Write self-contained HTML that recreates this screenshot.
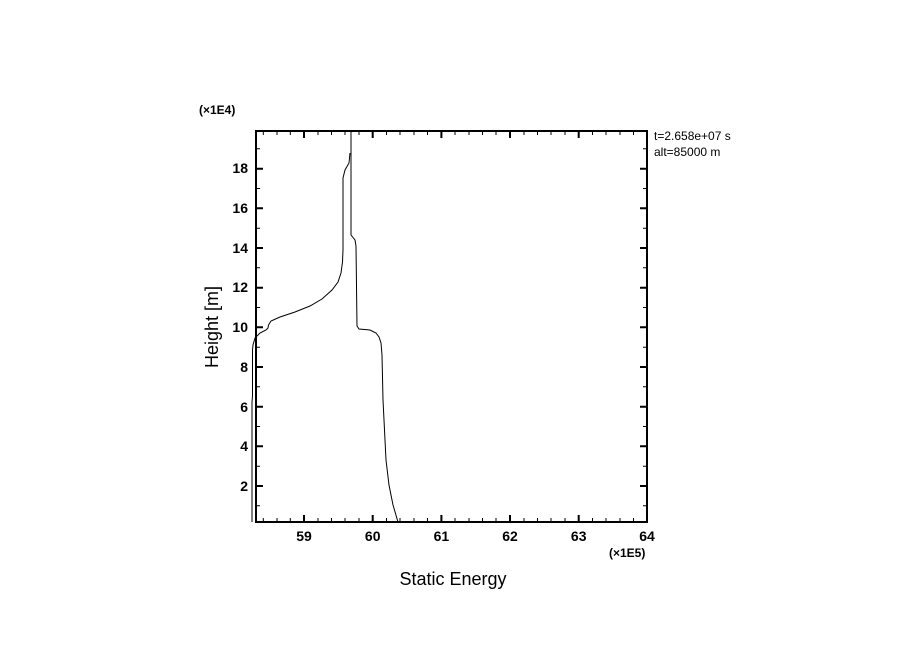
<!DOCTYPE html>
<html><head><style>body{margin:0;background:#fff}svg{display:block}</style></head><body>
<svg width="904" height="654" xmlns="http://www.w3.org/2000/svg" font-family="Liberation Sans, DejaVu Sans, sans-serif">
<rect width="904" height="654" fill="#fff"/>
<g stroke="#000" stroke-width="2" fill="none">
<rect x="256" y="131" width="391" height="391"/>
</g>
<g stroke="#000" stroke-width="2">
<!-- x major ticks -->
<path d="M304,522v-7M372.7,522v-7M441.4,522v-7M510,522v-7M578.7,522v-7M304,131v7M372.7,131v7M441.4,131v7M510,131v7M578.7,131v7"/>
<!-- y major ticks -->
<path d="M256,486h7M256,446.3h7M256,406.7h7M256,367h7M256,327.3h7M256,287.7h7M256,248h7M256,208.3h7M256,168.7h7M647,486h-7M647,446.3h-7M647,406.7h-7M647,367h-7M647,327.3h-7M647,287.7h-7M647,248h-7M647,208.3h-7M647,168.7h-7"/>
</g>
<g stroke="#000" stroke-width="1">
<path d="M263.3,522v-4M277,522v-4M290.3,522v-4M318,522v-4M331.5,522v-4M345,522v-4M359,522v-4M386.5,522v-4M400,522v-4M414,522v-4M427.5,522v-4M455,522v-4M469,522v-4M482.5,522v-4M496,522v-4M524,522v-4M537.5,522v-4M551,522v-4M565,522v-4M592.5,522v-4M606,522v-4M620,522v-4M633.5,522v-4
M263.3,131v4M277,131v4M290.3,131v4M318,131v4M331.5,131v4M345,131v4M359,131v4M386.5,131v4M400,131v4M414,131v4M427.5,131v4M455,131v4M469,131v4M482.5,131v4M496,131v4M524,131v4M537.5,131v4M551,131v4M565,131v4M592.5,131v4M606,131v4M620,131v4M633.5,131v4
M256,505.8h4M256,466.2h4M256,426.5h4M256,386.8h4M256,347.2h4M256,307.5h4M256,267.8h4M256,228.2h4M256,188.5h4M256,148.8h4
M647,505.8h-4M647,466.2h-4M647,426.5h-4M647,386.8h-4M647,347.2h-4M647,307.5h-4M647,267.8h-4M647,228.2h-4M647,188.5h-4M647,148.8h-4"/>
</g>
<g stroke="#000" stroke-width="1" fill="none">
<polyline points="252,522 252,402 252.5,396 252.5,350 253,345 255,338 260,333 266,330 268,328 268.5,325 271,321 280,317 295,312 310,306 322,299 332,290 338,282 341,273 342.5,262 343,250 343,178 345,170 349,163 350,153"/>
<polyline points="351,131 351,235 355,240 356,246 357,326 359,329 370,330 376,333 379,337 381,343 382,355 383,400 386,460 389,485 393,505 398,522"/>
</g>
<g font-size="14" font-weight="bold" fill="#000">
<g text-anchor="end">
<text x="248" y="491">2</text><text x="248" y="451">4</text><text x="248" y="412">6</text><text x="248" y="372">8</text><text x="248" y="332">10</text><text x="248" y="292">12</text><text x="248" y="253">14</text><text x="248" y="213">16</text><text x="248" y="173">18</text>
</g>
<g text-anchor="middle">
<text x="304" y="541">59</text><text x="372.7" y="541">60</text><text x="441.4" y="541">61</text><text x="510" y="541">62</text><text x="578.7" y="541">63</text><text x="647" y="541">64</text>
</g>
</g>
<text x="199" y="114" font-size="12" font-weight="bold">(×1E4)</text>
<text x="609" y="557" font-size="12" font-weight="bold">(×1E5)</text>
<text x="654" y="140" font-size="12">t=2.658e+07 s</text>
<text x="654" y="156" font-size="12">alt=85000 m</text>
<text x="453" y="585" font-size="18" text-anchor="middle">Static Energy</text>
<text transform="translate(218,327) rotate(-90)" font-size="18" text-anchor="middle">Height [m]</text>
</svg>
</body></html>
